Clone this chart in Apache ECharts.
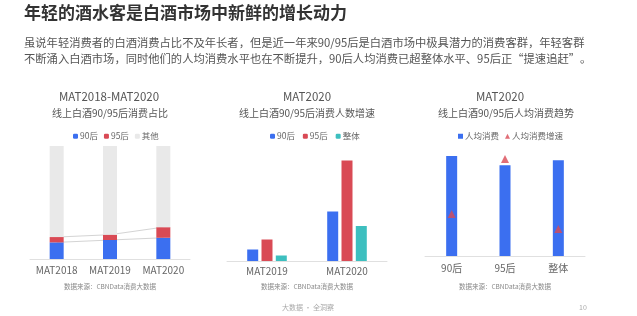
<!DOCTYPE html>
<html>
<head>
<meta charset="utf-8">
<script src="https://cdn.jsdelivr.net/npm/echarts@6/dist/echarts.min.js"></script>
<style>
  html, body { margin: 0; padding: 0; background: #fff; }
  #main { width: 637px; height: 316px; }
</style>
</head>
<body>
<div id="main"></div>
<script>
// chart 1: share of online baijiu spend (%)
var shareYears = ['MAT2018', 'MAT2019', 'MAT2020'];
var share90 = [14.7, 16.8, 18.8];
var share95 = [4.7, 4.7, 9.4];
var shareOther = [80.6, 78.5, 71.8];

// chart 2: consumer count growth
var growthYears = ['MAT2019', 'MAT2020'];
var growth90 = [23, 99];
var growth95 = [43, 201];
var growthAll = [11, 70];

// chart 3: per-capita spend
var groups = ['90后', '95后', '整体'];
var perCapita = [1000, 907, 957];
var perCapitaGrowth = [42, 97, 27];

var BLUE = '#3b6ff0', RED = '#d94a55', GRAY = '#e9e9e9', TEAL = '#3dbfbf';
var FONT = '"Noto Sans CJK SC", sans-serif';

var cum90 = share90.slice();
var cum95 = share90.map(function (v, i) { return v + share95[i]; });

var chart = echarts.init(document.getElementById('main'));

// centred text at (x, y)
function ctext(x, y, s, size, color) {
	return {
		type: 'text', x: x, y: y,
		style: { text: s, fontSize: size, fill: color, fontFamily: FONT, textAlign: 'center', textVerticalAlign: 'middle' }
	};
}

var catAxis = function (idx, data, margin) {
	return {
		type: 'category', gridIndex: idx, data: data,
		axisLine: { lineStyle: { color: '#e0e0e0' } },
		axisTick: { show: false },
		axisLabel: { color: '#666', fontSize: 10, margin: margin, interval: 0, fontFamily: FONT }
	};
};
var valAxis = function (idx, max) {
	return { type: 'value', gridIndex: idx, min: 0, max: max, show: false, splitLine: { show: false } };
};
var legendBase = function (x, names) {
	return {
		left: x, top: 127, data: names, itemWidth: 5, itemHeight: 5, itemGap: 6,
		textStyle: { color: '#666', fontSize: 8.5, fontFamily: FONT, padding: [0, 0, 0, -3] }
	};
};

option = {
	backgroundColor: '#fff',
	animation: false,
	graphic: [
		{ type: 'text', left: 24, top: 4, style: { text: '年轻的酒水客是白酒市场中新鲜的增长动力', fontSize: 17, fontWeight: 'bold', fill: '#333', fontFamily: FONT } },
		{ type: 'text', left: 24, top: 37, style: { text: '虽说年轻消费者的白酒消费占比不及年长者，但是近一年来90/95后是白酒市场中极具潜力的消费客群，年轻客群', fontSize: 11.3, fill: '#555', fontFamily: FONT } },
		{ type: 'text', left: 24, top: 53, style: { text: '不断涌入白酒市场，同时他们的人均消费水平也在不断提升，90后人均消费已超整体水平、95后正“提速追赶”。', fontSize: 11.3, fill: '#555', fontFamily: FONT } },
		ctext(109, 97, 'MAT2018-MAT2020', 11.5, '#555'),
		ctext(110, 113, '线上白酒90/95后消费占比', 10, '#555'),
		ctext(307, 97, 'MAT2020', 11.5, '#555'),
		ctext(307, 113, '线上白酒90/95后消费人数增速', 10, '#555'),
		ctext(500, 97, 'MAT2020', 11.5, '#555'),
		ctext(506, 113, '线上白酒90/95后人均消费趋势', 10, '#555'),
		ctext(110, 287, '数据来源：CBNData消费大数据', 6.5, '#888'),
		ctext(307, 287, '数据来源：CBNData消费大数据', 6.5, '#888'),
		ctext(505, 287, '数据来源：CBNData消费大数据', 6.5, '#888'),
		ctext(308, 307, '大数据 · 全洞察', 7, '#aaa'),
		ctext(583, 307, '10', 7, '#aaa')
	],
	legend: [
		legendBase(68, ['90后', '95后', '其他']),
		legendBase(265, ['90后 ', '95后 ', '整体']),
		legendBase(453, [{ name: '人均消费', icon: 'rect' }, { name: '人均消费增速', icon: 'triangle' }])
	],
	grid: [
		{ left: 30, width: 160, top: 146, height: 113 },
		{ left: 227, width: 160, top: 146, height: 115 },
		{ left: 425, width: 160, top: 146, height: 110 }
	],
	xAxis: [
		catAxis(0, shareYears, 6),
		catAxis(1, growthYears, 5),
		catAxis(2, groups, 7)
	],
	yAxis: [
		valAxis(0, 100),
		valAxis(1, 230),
		valAxis(2, 1100),
		valAxis(2, 110)
	],
	series: [
		{ name: '90后', type: 'bar', stack: 's', xAxisIndex: 0, yAxisIndex: 0, barWidth: 14, data: share90, itemStyle: { color: BLUE }, z: 3 },
		{ name: '95后', type: 'bar', stack: 's', xAxisIndex: 0, yAxisIndex: 0, barWidth: 14, data: share95, itemStyle: { color: RED }, z: 3 },
		{ name: '其他', type: 'bar', stack: 's', xAxisIndex: 0, yAxisIndex: 0, barWidth: 14, data: shareOther, itemStyle: { color: GRAY }, z: 3 },
		{ type: 'line', xAxisIndex: 0, yAxisIndex: 0, data: cum90, symbol: 'none', lineStyle: { color: '#d4d4d4', width: 1 }, z: 1 },
		{ type: 'line', xAxisIndex: 0, yAxisIndex: 0, data: cum95, symbol: 'none', lineStyle: { color: '#d4d4d4', width: 1 }, z: 1 },

		{ name: '90后 ', type: 'bar', xAxisIndex: 1, yAxisIndex: 1, barWidth: 11, barGap: '30%', data: growth90, itemStyle: { color: BLUE } },
		{ name: '95后 ', type: 'bar', xAxisIndex: 1, yAxisIndex: 1, barWidth: 11, barGap: '30%', data: growth95, itemStyle: { color: RED } },
		{ name: '整体', type: 'bar', xAxisIndex: 1, yAxisIndex: 1, barWidth: 11, barGap: '30%', data: growthAll, itemStyle: { color: TEAL } },

		{ name: '人均消费', type: 'bar', xAxisIndex: 2, yAxisIndex: 2, barWidth: 11, data: perCapita, itemStyle: { color: BLUE } },
		{ name: '人均消费增速', type: 'scatter', xAxisIndex: 2, yAxisIndex: 3, symbol: 'triangle', symbolSize: 8, data: perCapitaGrowth, itemStyle: { color: RED }, z: 5 }
	]
};
chart.setOption(option);
</script>
</body>
</html>
